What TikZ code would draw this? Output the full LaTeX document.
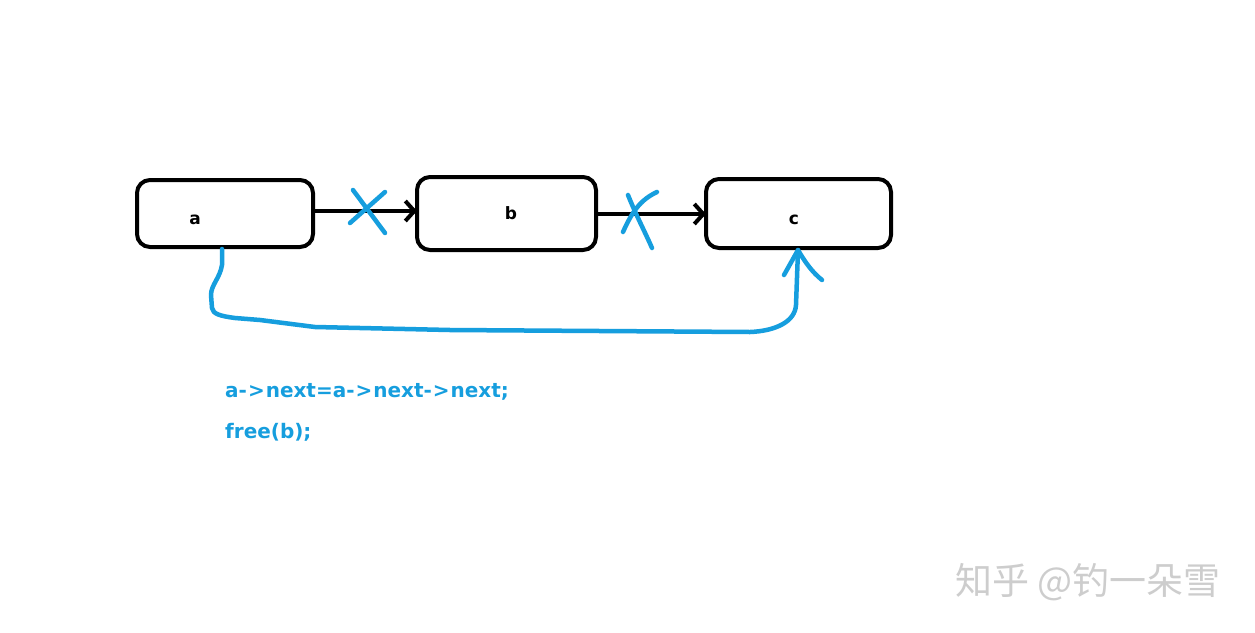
\documentclass[tikz,border=0pt]{standalone}
\usepackage{fontspec}
\usetikzlibrary{arrows.meta}
\newfontfamily\lblfont{DejaVu Sans}
\newfontfamily\cjkfont{Noto Sans CJK SC}
\definecolor{pen}{RGB}{22,158,222}
\definecolor{wm}{RGB}{205,205,205}
\tikzset{
  lbl/.style={font=\lblfont\bfseries\fontsize{17}{17}\selectfont, inner sep=0pt},
  boxline/.style={draw=black, line width=4pt, rounded corners=13pt},
  link/.style={draw=black, line width=4pt, line cap=round, line join=round, -{Straight Barb[length=9pt, width=20pt, line width=4pt]}},
  bluepen/.style={draw=pen, line width=4.5pt, line cap=round, line join=round},
  code/.style={font=\lblfont\bfseries\fontsize{20}{20}\selectfont, text=pen, anchor=base west, inner sep=0pt}
}
\begin{document}
\begin{tikzpicture}[x=1pt,y=-1pt]
\useasboundingbox (0,0) rectangle (1255,632);
\fill[white] (0,0) rectangle (1255,632);
% boxes
\draw[boxline] (137,180) rectangle (313,247);
\draw[boxline] (417,177) rectangle (596,250);
\draw[boxline] (706,179) rectangle (891,248);
\coordinate (aE) at (313,211);
\coordinate (bW) at (417,211);
\coordinate (bE) at (596,214);
\coordinate (cW) at (706,214);
\coordinate (aS) at (222,249);
\coordinate (cS) at (798,250);
\node[lbl] (la) at (195,220) {a};
\node[lbl] (lb) at (511,213) {b};
\node[lbl] (lc) at (794,220) {c};
% links
\draw[link] (aE) -- (bW);
\draw[link] (bE) -- (cW);
% blue crosses
\draw[bluepen] (350,223) -- (385,192);
\draw[bluepen] (353,190) -- (385,233);
\draw[bluepen] (623,232) .. controls (632,212) and (640,200) .. (657,192);
\draw[bluepen] (628,195) .. controls (636,215) and (645,232) .. (652,248);
% blue curve
\draw[bluepen] (aS) -- (222,265) .. controls (220,278) and (211,285) .. (211,295)
  -- (212,308) .. controls (213,314) and (220,316) .. (235,318)
  -- (260,320) -- (315,327) -- (450,330) -- (750,332)
  .. controls (775,331) and (795,322) .. (796,305) -- (cS);
\draw[bluepen] (784,275) -- (cS) .. controls (805,262) and (812,272) .. (822,280);
% code
\node[code] (t1) at (225,397) {a-\kern1pt>\kern1pt next=a-\kern1pt>\kern1pt next-\kern1pt>\kern1pt next;};
\node[code] (t2) at (225,438) {free(b);};
% watermark
\node[font=\cjkfont\fontsize{37}{37}\selectfont, text=wm, anchor=base west, inner sep=0pt] (wmk) at (955,594) {知乎 @钓一朵雪};
\end{tikzpicture}
\end{document}
